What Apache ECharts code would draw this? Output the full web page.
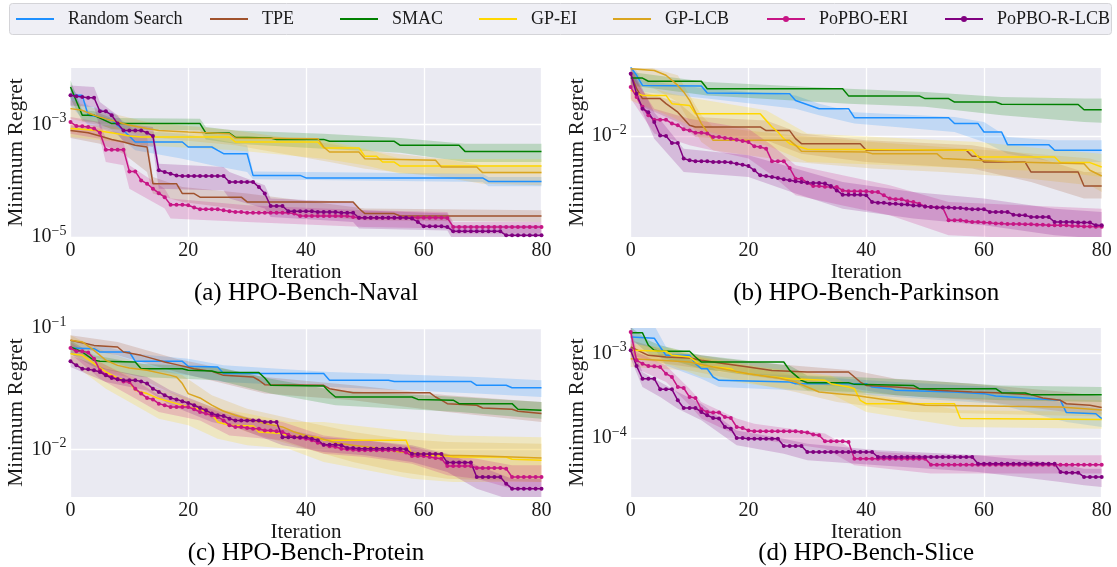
<!DOCTYPE html>
<html><head><meta charset="utf-8">
<script src="https://cdn.jsdelivr.net/npm/echarts@6/dist/echarts.min.js"></script>
<style>html,body{margin:0;padding:0;background:#fff}#c{width:1117px;height:567px}</style>
</head><body><div id="c"></div>
<script>
const methods = ['Random Search','TPE','SMAC','GP-EI','GP-LCB','PoPBO-ERI','PoPBO-R-LCB'];
const colors = ['#1e90ff','#a0522d','#008000','#ffd700','#daa520','#c71585','#800080'];
const panelTitles = ['(a) HPO-Bench-Naval','(b) HPO-Bench-Parkinson','(c) HPO-Bench-Protein','(d) HPO-Bench-Slice'];
const yTickExponents = [[-5,-3],[-2],[-2,-1],[-4,-3]];

// ---------- (a) Naval : [iteration, minimum regret] / band [iteration, lower, upper]
const navalRS = [[0,3.27e-3],[2,3.27e-3],[3,1.45e-3],[5,1.35e-3],[7,1.18e-3],[9,7.8e-4],[11,4.86e-4],[19,4.86e-4],[20,3.96e-4],[24,3.96e-4],[25,3.45e-4],[26,3.01e-4],[30,3.01e-4],[31,1.24e-4],[39,1.24e-4],[40,1.12e-4],[70,1.12e-4],[71,9.7e-5],[80,9.7e-5]];
const navalRSBand = [[0,2.17e-3,4.6e-3],[3,9.6e-4,2.17e-3],[7,7.8e-4,1.66e-3],[11,3.45e-4,7.8e-4],[19,2.46e-4,6.8e-4],[24,1.87e-4,5.57e-4],[30,1.43e-4,4.24e-4],[31,1.06e-4,1.46e-4],[70,9.5e-5,1.33e-4],[71,8.0e-5,1.16e-4],[80,8.0e-5,1.16e-4]];
const navalTPE = [[0,7.8e-4],[3,7.1e-4],[5,6.2e-4],[7,5.4e-4],[9,4.86e-4],[11,4.24e-4],[13,3.96e-4],[14,8.85e-5],[18,8.85e-5],[19,5.9e-5],[21,5.9e-5],[22,5.1e-5],[29,5.1e-5],[30,4.2e-5],[48,4.2e-5],[49,3.2e-5],[50,2.6e-5],[55,2.6e-5],[56,2.36e-5],[80,2.36e-5]];
const navalTPEBand = [[0,5.7e-4,9.6e-4],[5,4.54e-4,8.4e-4],[9,3.01e-4,6.8e-4],[13,1.43e-4,5.96e-4],[14,5.9e-5,1.16e-4],[19,4.2e-5,7.7e-5],[30,2.97e-5,5.9e-5],[50,1.98e-5,3.2e-5],[80,1.85e-5,2.97e-5]];
const navalSMAC = [[0,4.6e-3],[2,1.45e-3],[4,1.45e-3],[7,1.03e-3],[22,1.03e-3],[23,7.0e-4],[27,7.0e-4],[28,5.9e-4],[34,5.7e-4],[35,5.4e-4],[43,5.4e-4],[44,5.0e-4],[55,5.0e-4],[56,4.24e-4],[66,4.24e-4],[67,3.31e-4],[80,3.31e-4]];
const navalSMACBand = [[0,2.86e-3,6.04e-3],[2,1.13e-3,1.77e-3],[4,1.10e-3,1.70e-3],[7,8.15e-4,1.29e-3],[22,7.8e-4,1.26e-3],[23,5.4e-4,8.97e-4],[28,4.54e-4,7.8e-4],[43,3.7e-4,6.8e-4],[56,3.14e-4,5.7e-4],[67,2.14e-4,4.54e-4],[80,2.14e-4,4.54e-4]];
const navalGPEI = [[0,8.4e-4],[3,8.0e-4],[5,7.6e-4],[8,6.8e-4],[10,6.2e-4],[12,5.96e-4],[27,5.96e-4],[28,4.86e-4],[42,4.86e-4],[43,3.8e-4],[49,3.8e-4],[50,2.7e-4],[52,2.7e-4],[53,2.14e-4],[55,2.14e-4],[56,1.82e-4],[80,1.82e-4]];
const navalGPEIBand = [[0,5.96e-4,1.03e-3],[8,4.86e-4,8.97e-4],[12,4.24e-4,7.8e-4],[28,3.45e-4,6.4e-4],[43,2.46e-4,5.2e-4],[50,1.87e-4,3.7e-4],[56,1.33e-4,2.46e-4],[80,1.33e-4,2.4e-4]];
const navalGPLCB = [[0,1.90e-3],[2,1.77e-3],[4,1.45e-3],[6,1.26e-3],[8,1.10e-3],[10,9.6e-4],[13,8.4e-4],[15,7.8e-4],[20,7.3e-4],[27,6.8e-4],[28,5.7e-4],[42,5.57e-4],[43,3.96e-4],[44,3.23e-4],[49,3.23e-4],[50,2.46e-4],[62,2.3e-4],[63,1.75e-4],[69,1.75e-4],[70,1.39e-4],[80,1.39e-4]];
const navalGPLCBBand = [[0,1.26e-3,2.67e-3],[6,8.97e-4,1.66e-3],[13,5.96e-4,1.10e-3],[28,4.24e-4,7.8e-4],[44,2.14e-4,4.54e-4],[50,1.63e-4,3.45e-4],[63,1.16e-4,2.46e-4],[70,8.85e-5,1.87e-4],[80,8.3e-5,1.87e-4]];
const navalERI = [1.10e-3,9.3e-4,9.2e-4,8.97e-4,8.4e-4,7.1e-4,3.55e-4,3.55e-4,3.55e-4,3.55e-4,
1.46e-4,1.46e-4,1.01e-4,8.85e-5,7.2e-5,6.0e-5,5.1e-5,3.75e-5,3.75e-5,3.75e-5,
3.65e-5,3.35e-5,3.1e-5,3.1e-5,3.1e-5,3.1e-5,2.97e-5,2.86e-5,2.78e-5,2.78e-5,
2.7e-5,2.7e-5,2.7e-5,2.7e-5,2.7e-5,2.7e-5,2.7e-5,2.7e-5,2.6e-5,2.36e-5,
2.36e-5,2.36e-5,2.36e-5,2.36e-5,2.36e-5,2.36e-5,2.36e-5,2.36e-5,2.26e-5,2.2e-5,
2.2e-5,2.2e-5,2.2e-5,2.2e-5,2.2e-5,2.2e-5,2.2e-5,2.2e-5,2.2e-5,2.2e-5,
2.2e-5,2.2e-5,2.2e-5,2.2e-5,2.18e-5,1.51e-5,1.51e-5,1.51e-5,1.51e-5,1.51e-5,
1.51e-5,1.51e-5,1.51e-5,1.51e-5,1.51e-5,1.51e-5,1.51e-5,1.51e-5,1.51e-5,1.51e-5,
1.51e-5];
const navalERIBand = [[0,6.8e-4,1.35e-3],[5,5.57e-4,1.10e-3],[6,2.14e-4,5.57e-4],[9,1.87e-4,4.86e-4],[10,7.2e-5,1.87e-4],[16,3.2e-5,7.2e-5],[17,2.12e-5,4.8e-5],[30,1.85e-5,3.65e-5],[50,1.51e-5,2.97e-5],[64,1.41e-5,2.78e-5],[65,1.15e-5,1.85e-5],[80,1.15e-5,1.85e-5]];
const navalRLCB = [3.27e-3,3.14e-3,3.06e-3,2.97e-3,2.97e-3,1.70e-3,1.70e-3,1.45e-3,1.03e-3,7.8e-4,
7.8e-4,7.8e-4,7.8e-4,7.1e-4,6.2e-4,1.53e-4,1.43e-4,1.33e-4,1.24e-4,1.21e-4,
1.21e-4,1.21e-4,1.21e-4,1.21e-4,1.21e-4,1.21e-4,1.21e-4,9.5e-5,9.5e-5,9.5e-5,
9.5e-5,9.5e-5,7.7e-5,5.9e-5,3.55e-5,3.55e-5,3.55e-5,2.86e-5,2.86e-5,2.86e-5,
2.86e-5,2.86e-5,2.78e-5,2.78e-5,2.78e-5,2.78e-5,2.7e-5,2.7e-5,2.7e-5,2.2e-5,
2.2e-5,2.2e-5,2.2e-5,2.2e-5,2.2e-5,2.2e-5,2.2e-5,2.2e-5,2.12e-5,1.85e-5,
1.55e-5,1.55e-5,1.55e-5,1.55e-5,1.51e-5,1.26e-5,1.26e-5,1.26e-5,1.26e-5,1.26e-5,
1.26e-5,1.26e-5,1.26e-5,1.26e-5,1.07e-5,1.07e-5,1.07e-5,1.07e-5,1.07e-5,1.07e-5,
1.07e-5];
const navalRLCBBand = [[0,2.17e-3,4.9e-3],[4,2.03e-3,4.6e-3],[5,8.4e-4,2.49e-3],[8,6.8e-4,1.45e-3],[9,4.86e-4,1.03e-3],[14,3.96e-4,8.97e-4],[15,7.2e-5,2.0e-4],[26,6.7e-5,1.75e-4],[27,4.8e-5,1.43e-4],[33,3.2e-5,8.3e-5],[34,2.26e-5,4.8e-5],[48,1.85e-5,4.2e-5],[49,1.41e-5,2.97e-5],[64,1.31e-5,2.6e-5],[65,8.7e-6,1.61e-5],[80,8.7e-6,1.61e-5]];

// ---------- (b) Parkinson
const parkRS = [[0,0.0376],[1,0.0321],[2,0.0264],[12,0.0261],[13,0.0228],[27,0.0225],[28,0.0198],[32,0.0169],[37,0.0169],[38,0.01422],[54,0.01422],[55,0.0127],[59,0.0127],[60,0.0108],[63,0.0108],[64,0.00847],[71,0.00847],[72,0.0076],[80,0.0076]];
const parkRSBand = [[0,0.0321,0.0414],[2,0.0233,0.0291],[13,0.0205,0.0248],[28,0.0169,0.0218],[32,0.0149,0.0186],[38,0.0127,0.0158],[55,0.0108,0.0144],[60,0.00891,0.0131],[64,0.00713,0.00981],[72,0.00607,0.0092],[80,0.00607,0.0092]];
const parkTPE = [[0,0.0331],[1,0.0248],[2,0.0205],[5,0.0205],[6,0.0186],[8,0.0158],[10,0.0123],[11,0.0119],[22,0.0119],[23,0.0111],[27,0.0111],[28,0.0095],[29,0.00863],[39,0.00863],[40,0.0076],[57,0.0076],[58,0.00678],[59,0.00678],[60,0.00607],[67,0.00607],[68,0.00501],[76,0.00501],[77,0.00383],[80,0.00383]];
const parkTPEBand = [[0,0.0282,0.0388],[2,0.0175,0.0233],[8,0.0131,0.0192],[11,0.00981,0.0144],[23,0.0092,0.0135],[29,0.00713,0.0105],[40,0.00607,0.0092],[58,0.00535,0.00836],[68,0.00414,0.0069],[77,0.00301,0.00501],[80,0.00301,0.00501]];
const parkSMAC = [[0,0.0304],[2,0.0304],[3,0.0286],[12,0.0286],[13,0.0248],[36,0.0248],[37,0.0216],[49,0.0216],[50,0.0205],[54,0.0205],[55,0.0192],[62,0.0192],[63,0.0184],[76,0.0183],[77,0.01656],[80,0.01656]];
const parkSMACBand = [[0,0.0264,0.0341],[13,0.0218,0.0282],[37,0.0186,0.0248],[50,0.0175,0.0233],[63,0.0149,0.0211],[77,0.0131,0.0205],[80,0.0129,0.0205]];
const parkGPEI = [[0,0.024],[2,0.0218],[6,0.0218],[7,0.0186],[10,0.018],[11,0.0153],[22,0.0153],[23,0.0135],[24,0.0119],[25,0.0108],[26,0.0095],[27,0.00863],[30,0.00775],[58,0.0076],[59,0.00669],[72,0.00669],[73,0.006],[78,0.006],[80,0.00552]];
const parkGPEIBand = [[0,0.0198,0.0282],[7,0.0144,0.0225],[11,0.0115,0.0205],[23,0.00836,0.0164],[30,0.00607,0.0105],[59,0.00535,0.00891],[73,0.00501,0.0076],[80,0.00455,0.00713]];
const parkGPLCB = [[0,0.0364],[4,0.0352],[6,0.0321],[8,0.0264],[9,0.0233],[10,0.0198],[11,0.0158],[12,0.0127],[13,0.0108],[14,0.0092],[27,0.0092],[28,0.00836],[29,0.00745],[40,0.00736],[41,0.00713],[52,0.00713],[53,0.00648],[65,0.00607],[77,0.00588],[78,0.00518],[80,0.00464]];
const parkGPLCBBand = [[0,0.0321,0.0414],[8,0.0192,0.0321],[12,0.00891,0.0149],[14,0.0076,0.0119],[28,0.00607,0.0101],[41,0.00535,0.00891],[53,0.00501,0.0081],[65,0.00455,0.00736],[78,0.00388,0.00648],[80,0.00341,0.00607]];
const parkERI = [0.0256,0.0211,0.0175,0.0149,0.01368,0.01368,0.01368,0.0127,0.0123,0.01137,
0.0111,0.01066,0.01066,0.0105,0.00981,0.00981,0.00962,0.0095,0.00932,0.00909,
0.00891,0.0082,0.0081,0.00784,0.00615,0.00615,0.00615,0.00541,0.00441,0.00441,
0.00408,0.00383,0.00383,0.00378,0.00376,0.00376,0.00352,0.00346,0.00346,0.00346,
0.00346,0.00341,0.00341,0.0032,0.00301,0.00297,0.00297,0.00286,0.00282,0.00273,
0.00259,0.00256,0.00254,0.00253,0.00198,0.00198,0.00198,0.00195,0.00192,0.00192,
0.0019,0.00189,0.00186,0.00186,0.00185,0.00185,0.00185,0.00184,0.00184,0.00182,
0.00182,0.0018,0.0018,0.0018,0.0018,0.00178,0.00178,0.00176,0.00176,0.00175,
0.00175];
const parkERIBand = [[0,0.0205,0.0341],[4,0.0105,0.0169],[10,0.00836,0.0139],[20,0.00648,0.0115],[24,0.0047,0.00836],[28,0.0032,0.0057],[36,0.00264,0.0047],[44,0.00218,0.00388],[54,0.00149,0.00282],[80,0.00131,0.00248]];
const parkRLCB = [0.0331,0.0225,0.0169,0.0158,0.0131,0.0101,0.01,0.00875,0.00875,0.00648,
0.00627,0.00615,0.00615,0.00615,0.00607,0.00607,0.00607,0.006,0.00588,0.00577,
0.00562,0.00518,0.0047,0.00464,0.00455,0.00447,0.00435,0.00427,0.00419,0.00414,
0.00408,0.00405,0.00405,0.00401,0.00383,0.00352,0.00324,0.00324,0.00324,0.00324,
0.0032,0.00282,0.00278,0.00278,0.00273,0.00273,0.00268,0.00268,0.00264,0.00264,
0.00259,0.00256,0.00253,0.00253,0.00253,0.00251,0.00251,0.00248,0.00245,0.00245,
0.00245,0.00233,0.00233,0.00233,0.00233,0.00221,0.00218,0.00218,0.00211,0.00211,
0.00211,0.00211,0.00192,0.00192,0.00192,0.00192,0.0019,0.0019,0.0019,0.0018,
0.0018];
const parkRLCBBand = [[0,0.0264,0.0388],[4,0.0095,0.0158],[9,0.00501,0.00784],[20,0.00455,0.0069],[28,0.00331,0.00535],[36,0.00248,0.00414],[48,0.00205,0.00341],[60,0.0018,0.00301],[72,0.00149,0.00248],[80,0.00139,0.00233]];

// ---------- (c) Protein
const protRS = [[0,0.0684],[4,0.0676],[5,0.0634],[10,0.0634],[11,0.0531],[19,0.0531],[20,0.0484],[25,0.0477],[26,0.0421],[43,0.0421],[44,0.0371],[54,0.0371],[55,0.0363],[68,0.0363],[69,0.0337],[74,0.0337],[75,0.0322],[80,0.0322]];
const protRSBand = [[0,0.0595,0.0791],[5,0.0559,0.0719],[11,0.0462,0.0614],[20,0.0407,0.0559],[26,0.0359,0.0492],[44,0.0326,0.0434],[69,0.0288,0.0395],[80,0.027,0.0371]];
const protTPE = [[0,0.0791],[2,0.0757],[4,0.0719],[8,0.0697],[9,0.0634],[12,0.0595],[14,0.0559],[16,0.0525],[18,0.0499],[21,0.0462],[24,0.0439],[26,0.0407],[31,0.0395],[32,0.0371],[33,0.0341],[43,0.0337],[44,0.0316],[48,0.0293],[61,0.0293],[62,0.027],[63,0.0254],[64,0.0238],[69,0.0231],[70,0.0219],[75,0.0214],[76,0.0206],[80,0.0197]];
const protTPEBand = [[0,0.0697,0.087],[8,0.0595,0.0767],[18,0.0434,0.0559],[26,0.0348,0.0462],[33,0.0288,0.0395],[48,0.0254,0.0337],[64,0.0203,0.0279],[80,0.0168,0.0246]];
const protSMAC = [[0,0.0697],[2,0.0634],[4,0.0542],[5,0.0531],[11,0.0525],[12,0.0462],[19,0.0462],[20,0.0448],[24,0.0442],[25,0.0429],[32,0.0429],[33,0.0387],[34,0.0337],[43,0.0333],[44,0.0297],[45,0.027],[58,0.027],[59,0.0258],[65,0.0254],[66,0.0238],[75,0.0238],[76,0.0214],[80,0.021]];
const protSMACBand = [[0,0.0614,0.0791],[4,0.0477,0.0595],[12,0.0395,0.0508],[25,0.0371,0.0477],[34,0.0288,0.0382],[45,0.0231,0.0306],[66,0.0203,0.027],[80,0.0179,0.0246]];
const protGPEI = [[0,0.0614],[2,0.0595],[4,0.0508],[6,0.0434],[8,0.0387],[10,0.0359],[11,0.0306],[13,0.0288],[15,0.0262],[18,0.0238],[20,0.0223],[22,0.0214],[24,0.0197],[25,0.0168],[27,0.0158],[31,0.0156],[32,0.0139],[36,0.0135],[37,0.0129],[42,0.0126],[43,0.0119],[57,0.0119],[58,0.00892],[64,0.00882],[65,0.00865],[74,0.00865],[75,0.00828],[80,0.00812]];
const protGPEIBand = [[0,0.0525,0.0697],[6,0.0316,0.0492],[10,0.0246,0.0407],[15,0.0179,0.0316],[20,0.0158,0.0262],[25,0.0122,0.0216],[30,0.0108,0.0197],[37,0.0101,0.0168],[43,0.00787,0.0168],[58,0.00573,0.0139],[65,0.00538,0.013],[80,0.00538,0.0126]];
const protGPLCB = [[0,0.0791],[2,0.0767],[4,0.0654],[6,0.0542],[8,0.0492],[10,0.0468],[13,0.0448],[17,0.0407],[18,0.0395],[19,0.0348],[20,0.0288],[22,0.0265],[24,0.0231],[26,0.0206],[28,0.0191],[30,0.0179],[33,0.0163],[36,0.0153],[38,0.0139],[40,0.013],[43,0.0121],[45,0.01135],[48,0.0108],[52,0.01025],[56,0.0095],[60,0.0092],[64,0.00892],[70,0.0088],[80,0.0085]];
const protGPLCBBand = [[0,0.0697,0.087],[6,0.0434,0.0634],[13,0.0359,0.0492],[19,0.0262,0.0407],[24,0.0179,0.0279],[30,0.0139,0.0216],[40,0.0101,0.0168],[48,0.00787,0.0139],[56,0.00651,0.0122],[64,0.00573,0.0115],[80,0.00538,0.0111]];
const protERI = [0.0684,0.0643,0.0643,0.0627,0.0559,0.0448,0.0412,0.0395,0.0378,0.0363,
0.0359,0.0316,0.0288,0.0265,0.0258,0.0238,0.0231,0.0223,0.0223,0.0223,
0.0223,0.0214,0.0203,0.0197,0.0191,0.0185,0.0173,0.0158,0.0153,0.0153,
0.015,0.0148,0.0148,0.0143,0.0143,0.0141,0.0139,0.0132,0.0126,0.0124,
0.0122,0.0119,0.01135,0.0109,0.0106,0.0105,0.0101,0.01,0.00994,0.00981,
0.00981,0.00981,0.00981,0.00981,0.00981,0.00981,0.00981,0.0094,0.00882,0.00882,
0.00882,0.00865,0.00849,0.00838,0.00729,0.00729,0.00729,0.00729,0.00729,0.00702,
0.00702,0.00702,0.00702,0.00702,0.00693,0.00592,0.00592,0.00592,0.00592,0.00592,
0.00592];
const protERIBand = [[0,0.0614,0.0767],[5,0.0382,0.0525],[11,0.0262,0.0371],[15,0.0203,0.0279],[22,0.0173,0.0231],[27,0.013,0.0191],[36,0.0119,0.0168],[43,0.0092,0.013],[50,0.00865,0.0119],[58,0.00762,0.0105],[64,0.00611,0.00892],[69,0.00573,0.00838],[75,0.00474,0.00738],[80,0.00474,0.00738]];
const protRLCB = [0.0531,0.0492,0.0462,0.0456,0.0448,0.0434,0.0407,0.0387,0.0378,0.0371,
0.0371,0.0371,0.0363,0.0348,0.0316,0.0297,0.0279,0.0265,0.0258,0.0249,
0.0241,0.0231,0.0219,0.021,0.0197,0.0191,0.0188,0.0179,0.0173,0.0173,
0.0173,0.0173,0.0173,0.0168,0.0168,0.0168,0.0126,0.0126,0.0126,0.0126,
0.0126,0.0122,0.0119,0.0109,0.0109,0.0109,0.0108,0.01025,0.01025,0.0101,
0.0101,0.0101,0.0101,0.0101,0.0101,0.0101,0.0101,0.01,0.0092,0.00917,
0.00917,0.00917,0.00917,0.00917,0.00777,0.00777,0.00777,0.00777,0.00777,0.00592,
0.00592,0.00592,0.00592,0.00592,0.00521,0.00474,0.00474,0.00474,0.00474,0.00474,
0.00474];
const protRLCBBand = [[0,0.0477,0.0595],[6,0.0359,0.0462],[13,0.0306,0.0395],[17,0.0231,0.0306],[24,0.0168,0.0223],[28,0.0153,0.0197],[36,0.0108,0.0148],[43,0.0095,0.0126],[50,0.00892,0.0119],[58,0.00787,0.0108],[64,0.00651,0.0092],[69,0.00474,0.00738],[75,0.0038,0.00573],[80,0.0038,0.00573]];

// ---------- (d) Slice
const sliceRS = [[0,1.58e-3],[4,1.53e-3],[5,1.2e-3],[6,9.56e-4],[10,9.56e-4],[11,7.61e-4],[12,6.64e-4],[13,6.64e-4],[14,5.29e-4],[15,4.83e-4],[27,4.61e-4],[28,4.41e-4],[40,4.41e-4],[41,4.03e-4],[44,3.85e-4],[45,3.68e-4],[55,3.51e-4],[60,3.36e-4],[62,3.15e-4],[73,2.8e-4],[74,2.0e-4],[79,1.94e-4],[80,1.7e-4]];
const sliceRSBand = [[0,1.37e-3,2.37e-3],[4,1.15e-3,2.17e-3],[6,7.27e-4,1.2e-3],[12,5.05e-4,8.34e-4],[15,4.03e-4,6.06e-4],[28,3.68e-4,5.53e-4],[45,3.06e-4,4.61e-4],[62,2.55e-4,4.03e-4],[74,1.55e-4,2.55e-4],[80,1.35e-4,2.23e-4]];
const sliceTPE = [[0,1.2e-3],[3,9.56e-4],[6,9.13e-4],[10,8.89e-4],[12,8.34e-4],[16,7.61e-4],[20,6.95e-4],[24,6.34e-4],[30,6.06e-4],[37,6.06e-4],[38,5.29e-4],[39,4.61e-4],[40,4.21e-4],[45,4.03e-4],[52,3.68e-4],[58,3.51e-4],[62,3.45e-4],[68,3.27e-4],[70,2.98e-4],[73,2.8e-4],[74,2.55e-4],[78,2.44e-4],[80,2.3e-4]];
const sliceTPEBand = [[0,9.56e-4,1.44e-3],[6,7.61e-4,1.1e-3],[16,6.06e-4,8.72e-4],[24,5.05e-4,7.61e-4],[38,3.85e-4,6.34e-4],[45,3.21e-4,5.05e-4],[58,2.8e-4,4.41e-4],[74,2.03e-4,3.51e-4],[80,1.9e-4,3.1e-4]];
const sliceSMAC = [[0,1.77e-3],[2,1.77e-3],[3,1.26e-3],[4,1.10e-3],[5,1.07e-3],[10,1.07e-3],[11,9.13e-4],[12,7.97e-4],[26,7.97e-4],[27,6.34e-4],[28,5.53e-4],[29,4.83e-4],[30,4.53e-4],[37,4.53e-4],[38,4.33e-4],[48,4.21e-4],[49,3.85e-4],[62,3.85e-4],[63,3.45e-4],[67,3.42e-4],[68,3.27e-4],[80,3.27e-4]];
const sliceSMACBand = [[0,1.51e-3,2.07e-3],[3,1.0e-3,1.44e-3],[5,9.13e-4,1.26e-3],[12,6.64e-4,9.56e-4],[27,4.83e-4,7.27e-4],[30,3.68e-4,5.53e-4],[38,3.51e-4,5.29e-4],[49,3.06e-4,4.83e-4],[63,2.8e-4,4.21e-4],[80,2.67e-4,4.03e-4]];
const sliceGPEI = [[0,1.10e-3],[6,1.07e-3],[7,9.56e-4],[10,9.13e-4],[12,7.27e-4],[17,6.64e-4],[18,6.06e-4],[22,5.53e-4],[27,5.05e-4],[33,4.83e-4],[34,4.41e-4],[37,4.03e-4],[38,3.85e-4],[39,2.8e-4],[40,2.55e-4],[55,2.55e-4],[56,1.7e-4],[80,1.66e-4]];
const sliceGPEIBand = [[0,9.13e-4,1.31e-3],[7,7.27e-4,1.15e-3],[12,5.29e-4,9.13e-4],[22,4.21e-4,6.95e-4],[34,3.36e-4,5.53e-4],[40,2.03e-4,3.36e-4],[56,1.35e-4,2.13e-4],[80,1.29e-4,2.03e-4]];
const sliceGPLCB = [[0,8.72e-4],[5,8.34e-4],[10,7.97e-4],[14,6.95e-4],[17,6.34e-4],[20,5.79e-4],[25,5.14e-4],[28,4.61e-4],[30,4.03e-4],[32,3.51e-4],[35,3.36e-4],[38,3.21e-4],[40,3.06e-4],[48,2.55e-4],[50,2.44e-4],[73,2.33e-4],[80,2.15e-4]];
const sliceGPLCBBand = [[0,6.95e-4,1.05e-3],[10,6.34e-4,9.56e-4],[17,5.05e-4,7.61e-4],[28,3.51e-4,5.53e-4],[35,2.67e-4,4.03e-4],[48,2.03e-4,3.06e-4],[80,1.8e-4,2.8e-4]];
const sliceERI = [1.81e-3,8.34e-4,7.61e-4,7.15e-4,7.1e-4,6.95e-4,5.79e-4,5.29e-4,4.03e-4,3.92e-4,
3.06e-4,2.98e-4,2.19e-4,2.03e-4,2.0e-4,2.0e-4,1.77e-4,1.73e-4,1.35e-4,1.31e-4,
1.23e-4,1.2e-4,1.2e-4,1.2e-4,1.2e-4,1.2e-4,1.2e-4,1.2e-4,1.2e-4,1.18e-4,
1.16e-4,1.1e-4,1.08e-4,9.13e-5,9.13e-5,9.13e-5,9.13e-5,8.97e-5,5.69e-5,5.69e-5,
5.69e-5,5.69e-5,5.69e-5,5.69e-5,5.69e-5,5.69e-5,5.69e-5,5.69e-5,5.69e-5,5.69e-5,
5.69e-5,4.83e-5,4.83e-5,4.83e-5,4.83e-5,4.83e-5,4.83e-5,4.83e-5,4.83e-5,4.83e-5,
4.83e-5,4.83e-5,4.83e-5,4.83e-5,4.83e-5,4.83e-5,4.83e-5,4.83e-5,4.83e-5,4.83e-5,
4.83e-5,4.83e-5,4.83e-5,4.83e-5,4.83e-5,4.83e-5,4.83e-5,4.83e-5,4.83e-5,4.83e-5,
4.83e-5];
const sliceERIBand = [[0,1.37e-3,2.37e-3],[1,6.64e-4,1.05e-3],[6,4.61e-4,7.27e-4],[10,2.44e-4,3.85e-4],[12,1.7e-4,2.67e-4],[18,1.08e-4,1.7e-4],[21,9.82e-5,1.48e-4],[33,7.47e-5,1.13e-4],[38,4.74e-5,7.14e-5],[51,3.78e-5,6.23e-5],[80,3.78e-5,6.23e-5]];
const sliceRLCB = [1.10e-3,7.15e-4,5.05e-4,5.05e-4,5.05e-4,3.78e-4,3.78e-4,3.78e-4,2.8e-4,2.27e-4,
2.27e-4,2.27e-4,2.03e-4,1.86e-4,1.73e-4,1.7e-4,1.35e-4,1.29e-4,1.0e-4,1.0e-4,
9.82e-5,9.82e-5,9.82e-5,9.82e-5,9.82e-5,9.82e-5,8.04e-5,8.04e-5,8.04e-5,8.04e-5,
6.82e-5,6.82e-5,6.82e-5,6.82e-5,6.82e-5,6.82e-5,6.82e-5,6.82e-5,6.82e-5,6.82e-5,
6.82e-5,6.82e-5,5.95e-5,5.95e-5,5.95e-5,5.95e-5,5.95e-5,5.95e-5,5.95e-5,5.95e-5,
5.95e-5,5.95e-5,5.95e-5,5.95e-5,5.95e-5,5.95e-5,5.95e-5,5.95e-5,5.95e-5,4.96e-5,
4.96e-5,4.96e-5,4.96e-5,4.96e-5,4.96e-5,4.96e-5,4.96e-5,4.96e-5,4.96e-5,4.96e-5,
4.96e-5,4.96e-5,4.96e-5,3.95e-5,3.88e-5,3.88e-5,3.88e-5,3.45e-5,3.45e-5,3.45e-5,
3.45e-5];
const sliceRLCBBand = [[0,8.72e-4,1.37e-3],[2,4.03e-4,6.06e-4],[5,3.06e-4,4.61e-4],[8,2.23e-4,3.51e-4],[12,1.62e-4,2.55e-4],[18,8.19e-5,1.23e-4],[26,6.52e-5,9.82e-5],[30,5.44e-5,8.57e-5],[42,4.74e-5,7.14e-5],[59,3.95e-5,6.23e-5],[73,3.01e-5,4.96e-5],[77,2.75e-5,4.33e-5],[80,2.62e-5,4.33e-5]];

// ---------- assembly
const panels = [
  {lines:[navalRS,navalTPE,navalSMAC,navalGPEI,navalGPLCB,navalERI,navalRLCB],
   bands:[navalRSBand,navalTPEBand,navalSMACBand,navalGPEIBand,navalGPLCBBand,navalERIBand,navalRLCBBand]},
  {lines:[parkRS,parkTPE,parkSMAC,parkGPEI,parkGPLCB,parkERI,parkRLCB],
   bands:[parkRSBand,parkTPEBand,parkSMACBand,parkGPEIBand,parkGPLCBBand,parkERIBand,parkRLCBBand]},
  {lines:[protRS,protTPE,protSMAC,protGPEI,protGPLCB,protERI,protRLCB],
   bands:[protRSBand,protTPEBand,protSMACBand,protGPEIBand,protGPLCBBand,protERIBand,protRLCBBand]},
  {lines:[sliceRS,sliceTPE,sliceSMAC,sliceGPEI,sliceGPLCB,sliceERI,sliceRLCB],
   bands:[sliceRSBand,sliceTPEBand,sliceSMACBand,sliceGPEIBand,sliceGPLCBBand,sliceERIBand,sliceRLCBBand]}
];
const yRanges = [[-5,-2],[-2.842,-1.433],[-2.393,-1.0],[-4.70,-2.695]];
const grids = [
  {left:70.5, top:68, width:471, height:169},
  {left:630.7, top:68, width:471, height:169},
  {left:70.5, top:328, width:471, height:169},
  {left:630.7, top:328, width:471, height:169}
];
const FONT = 'Liberation Serif';
const TXT = '#1a1a1a';
const lg = Math.log10;

function bandSeries(band, color, gi) {
  return {
    type:'custom', xAxisIndex:gi, yAxisIndex:gi, silent:true, z:1, clip:true,
    data: band.map(b => [b[0], lg(b[1]), lg(b[2])]),
    encode:{x:0, y:[1,2]},
    renderItem: (params, api) => {
      if (params.dataIndex !== 0) return null;
      const top = band.map(b => api.coord([b[0], lg(b[2])]));
      const bot = band.map(b => api.coord([b[0], lg(b[1])])).reverse();
      return {type:'polygon', shape:{points: top.concat(bot)}, style:{fill:color, opacity:0.2}};
    }
  };
}
function lineSeries(name, pts, color, gi, marker) {
  const data = marker ? pts.map((v,i) => [i, lg(v)]) : pts.map(p => [p[0], lg(p[1])]);
  return {
    name, type:'line', xAxisIndex:gi, yAxisIndex:gi, z:2, data,
    symbol: marker ? 'circle' : 'none', symbolSize:4, showSymbol: marker,
    lineStyle:{color, width:1.5}, itemStyle:{color}, clip:true
  };
}
const series = [];
panels.forEach((p, gi) => p.bands.forEach((b, mi) => series.push(bandSeries(b, colors[mi], gi))));
panels.forEach((p, gi) => p.lines.forEach((l, mi) => series.push(lineSeries(methods[mi], l, colors[mi], gi, mi >= 5))));

const lineIcon = 'path://M0,0 L38,0 L38,1.8 L0,1.8 Z';
const dotIcon = 'path://M0,2.1 L38,2.1 L38,3.9 L0,3.9 Z M16,3 A3,3 0 1,1 22,3 A3,3 0 1,1 16,3 Z';
const legendX = [16,210,340,479,613,767,945];

const option = {
  animation:false,
  backgroundColor:'#ffffff',
  grid: grids.map(g => Object.assign({show:true, backgroundColor:'#eaeaf2', borderWidth:0}, g)),
  xAxis: grids.map((g,i) => ({
    gridIndex:i, type:'value', min:0, max:80, interval:20,
    axisLine:{show:false, onZero:false}, axisTick:{show:false},
    axisLabel:{fontSize:20, fontFamily:FONT, color:TXT, margin:4},
    splitLine:{show:true, lineStyle:{color:'#ffffff', width:1.3}},
    name:'Iteration', nameLocation:'middle', nameGap:20,
    nameTextStyle:{fontSize:21, fontFamily:FONT, color:TXT}
  })),
  yAxis: grids.map((g,i) => ({
    gridIndex:i, type:'value', min:yRanges[i][0], max:yRanges[i][1],
    axisLine:{show:false, onZero:false}, axisTick:{show:false, customValues:yTickExponents[i]},
    axisLabel:{customValues:yTickExponents[i], margin:4,
      formatter: v => '{b|10}{s|\u2212' + Math.round(-v) + '}',
      rich:{b:{fontSize:20, fontFamily:FONT, color:TXT, lineHeight:26},
            s:{fontSize:14, fontFamily:FONT, color:TXT, lineHeight:14, verticalAlign:'top'}}},
    splitLine:{show:true, lineStyle:{color:'#ffffff', width:1.3}},
    name:'Minimum Regret', nameLocation:'middle', nameGap:42,
    nameTextStyle:{fontSize:21.5, fontFamily:FONT, color:TXT}
  })),
  legend: methods.map((m,i) => ({
    data:[m], left:legendX[i], top:10, padding:0, itemGap:0, selectedMode:false,
    itemWidth:38, itemHeight: i >= 5 ? 6 : 1.8,
    icon: i >= 5 ? dotIcon : lineIcon,
    itemStyle:{borderWidth:0},
    textStyle:{fontSize:18, fontFamily:FONT, color:TXT, padding:[0,0,0,9]}
  })),
  graphic: [
    {type:'rect', silent:true, shape:{x:9.5, y:3.5, width:1102, height:31, r:3},
     style:{fill:'#efeff5', stroke:'#d4d4d8', lineWidth:1}},
    ...panelTitles.map((t,i) => ({
      type:'text', silent:true, x: grids[i].left + grids[i].width/2, y: i < 2 ? 293 : 553,
      style:{text:t, fontSize:25, fontFamily:FONT, fill:'#000', align:'center', verticalAlign:'middle',
             textAlign:'center', textVerticalAlign:'middle'}
    }))
  ],
  series
};
const chart = echarts.init(document.getElementById('c'));
chart.setOption(option);
</script>
</body></html>
